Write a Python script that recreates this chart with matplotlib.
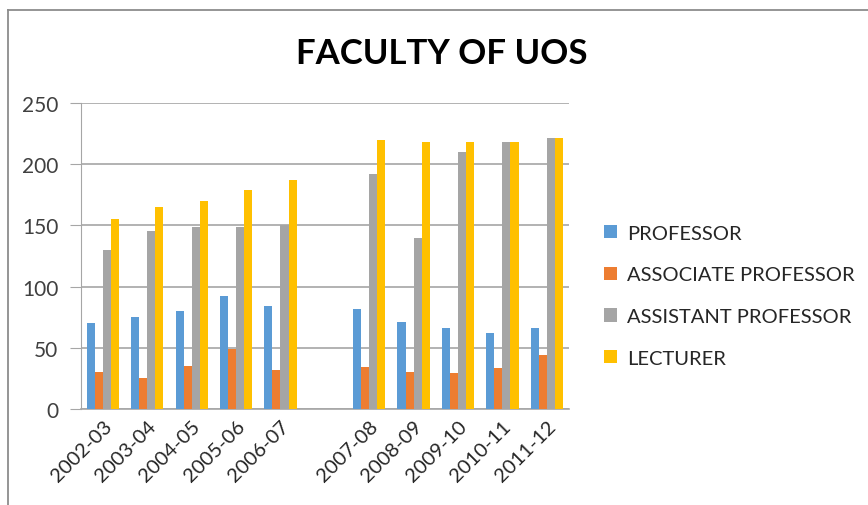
import numpy as np
import matplotlib
matplotlib.use('Agg')
import matplotlib.pyplot as plt
from matplotlib.lines import Line2D

plt.rcParams['font.family'] = ['Lato', 'DejaVu Sans']

# data (blank slot between 2006-07 and 2007-08)
YEARS = ['2002-03', '2003-04', '2004-05', '2005-06', '2006-07', '',
         '2007-08', '2008-09', '2009-10', '2010-11', '2011-12']
PROFESSOR = [70, 75, 80, 92, 84, np.nan, 82, 71, 66, 62, 66]
ASSOCIATE = [30, 25, 35, 49, 32, np.nan, 34, 30, 29, 33, 44]
ASSISTANT = [130, 145, 149, 149, 150, np.nan, 192, 140, 210, 218, 221]
LECTURER = [155, 165, 170, 179, 187, np.nan, 220, 218, 218, 218, 221]

SERIES = [
    ('PROFESSOR', PROFESSOR, '#5B9BD5'),
    ('ASSOCIATE PROFESSOR', ASSOCIATE, '#ED7D31'),
    ('ASSISTANT PROFESSOR', ASSISTANT, '#A5A5A5'),
    ('LECTURER', LECTURER, '#FFC000'),
]

fig = plt.figure(figsize=(8.68, 5.06), dpi=100)
ax = fig.add_axes([0.093, 0.19, 0.5625, 0.6045])

# chart-area frame: only the top and left edges are visible
fx, fy = 7.5 / 868, 1 - 11 / 506
fig.add_artist(Line2D([fx, fx], [0, fy], transform=fig.transFigure,
                      color='#8C8C8C', lw=1.3))
fig.add_artist(Line2D([fx, 1], [fy, fy], transform=fig.transFigure,
                      color='#8C8C8C', lw=1.3))

x = np.arange(len(YEARS))
width = 1 / 5.5
for i, (name, values, color) in enumerate(SERIES):
    ax.bar(x + (i - 1.5) * width, values, width, color=color, label=name,
           zorder=3)

ax.set_xlim(-0.5, len(YEARS) - 0.5)
ax.set_ylim(0, 250)
ax.set_yticks(range(0, 251, 50))
ax.yaxis.grid(True, color='#A6A6A6', lw=1.2)
ax.set_axisbelow(True)
for side in ('top', 'right'):
    ax.spines[side].set_visible(False)
ax.spines['left'].set_color('#A6A6A6')
ax.spines['bottom'].set_color('#A6A6A6')
ax.spines['bottom'].set_linewidth(1.2)
ax.tick_params(axis='y', length=8, color='#A6A6A6', labelsize=15,
               labelcolor='#404040', pad=8)
ax.tick_params(axis='x', length=0, labelsize=14.5, labelcolor='#262626', pad=6)
ax.set_xticks(x)
ax.set_xticklabels(YEARS, rotation=45, ha='right', rotation_mode='anchor')

fig.text(0.509, 0.893, 'FACULTY OF UOS', ha='center', va='center',
         fontsize=25, fontweight='bold', color='black')

ax.legend(loc='center left', bbox_to_anchor=(1.035, 0.37), frameon=False,
          fontsize=14.5, handlelength=0.65, handleheight=0.65,
          handletextpad=0.5, labelspacing=1.22, labelcolor='#262626')

fig.savefig('out.png', dpi=100, facecolor='white')
